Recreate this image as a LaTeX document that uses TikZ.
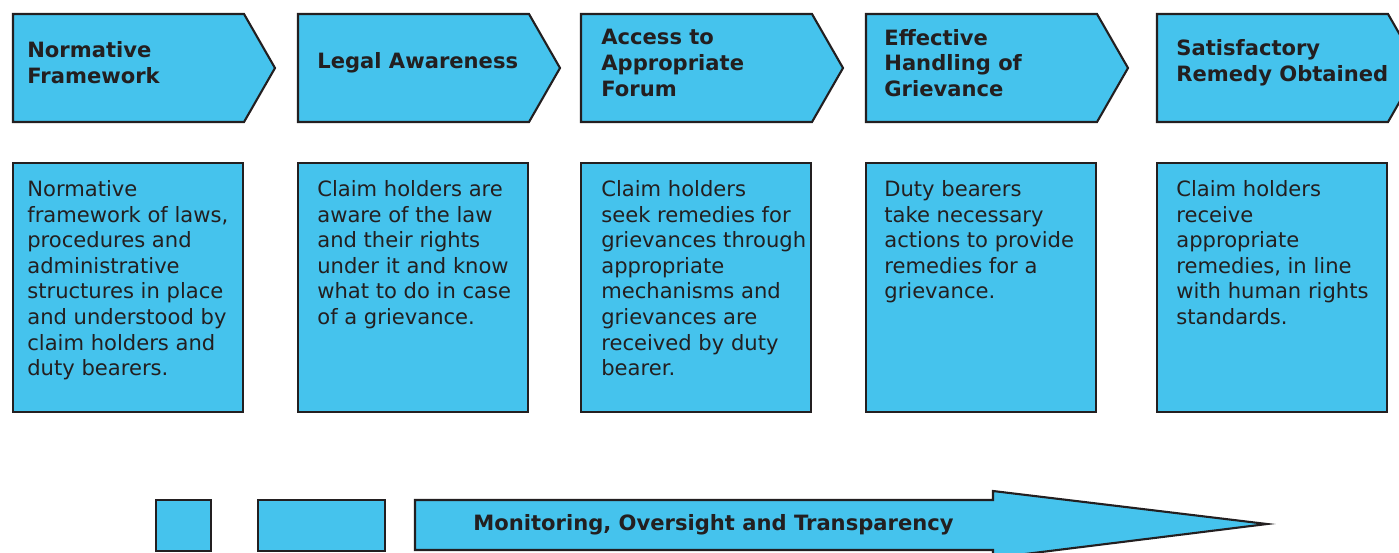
\documentclass[tikz,border=0pt]{standalone}
\usepackage{fontspec}
\setmainfont{DejaVu Sans}
\usetikzlibrary{positioning}
\definecolor{stepblue}{RGB}{69,195,237}
\definecolor{stepline}{RGB}{35,31,32}
\tikzset{
     stage/.style   = {fill=stepblue, draw=stepline, line width=1.2pt, line join=miter},
     head text/.style = {anchor=west, align=left, inner sep=0pt, text=stepline,
                         font=\bfseries\fontsize{12}{14.7}\selectfont},
     desc text/.style = {anchor=north west, align=left, inner sep=0pt, text=stepline,
                         font=\fontsize{12}{14.6}\selectfont},
    }

\begin{document}
\begin{tikzpicture}[x=0.02cm, y=-0.02cm]
  \useasboundingbox (0,0) rectangle (1399,552);
  \clip (0,0) rectangle (1399,552);
  % stages: heading chevron and description box
  \foreach \x/\t/\n/\title/\desc in {
      13/27/1/{Normative\\Framework}/{Normative\\framework of laws,\\procedures and\\administrative\\structures in place\\and understood by\\claim holders and\\duty bearers.},
      298/317/2/{Legal Awareness}/{Claim holders are\\aware of the law\\and their rights\\under it and know\\what to do in case\\of a grievance.},
      581/601/3/{Access to\\Appropriate\\Forum}/{Claim holders\\seek remedies for\\grievances through\\appropriate\\mechanisms and\\grievances are\\received by duty\\bearer.},
      866/884/4/{Effective\\Handling of\\Grievance}/{Duty bearers\\take necessary\\actions to provide\\remedies for a\\grievance.},
      1157/1176/5/{Satisfactory\\Remedy Obtained}/{Claim holders\\receive\\appropriate\\remedies, in line\\with human rights\\standards.}} {
    \draw[stage] (\x,14) -- ++(231,0) -- ++(31,54) -- ++(-31,54) -- ++(-231,0) -- cycle;
    \draw[stage] (\x,163) rectangle ++(230,249);
    \node[head text] (head\n) at (\t,63) {\title};
    \node[desc text] (desc\n) at (\t,180) {\desc};
  }
  % monitoring bar
  \draw[stage] (156,500) rectangle (211,551);
  \draw[stage] (258,500) rectangle (385,551);
  \draw[stage] (415,500) -- (993,500) -- (993,491) -- (1267,524) -- (993,558) -- (993,550) -- (415,550) -- cycle;
  \node[head text] (monitor) at (473,525) {Monitoring, Oversight and Transparency};
\end{tikzpicture}
\end{document}
